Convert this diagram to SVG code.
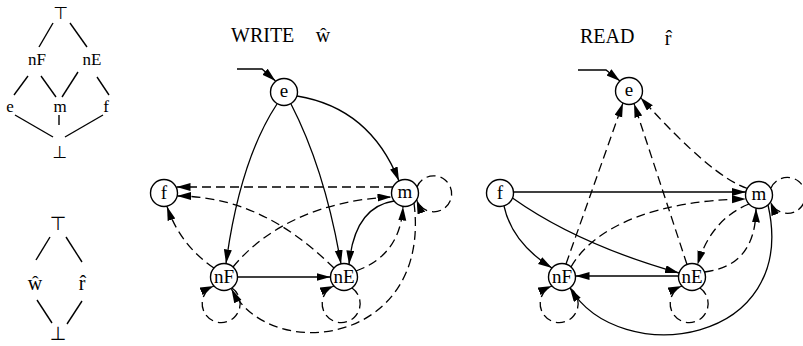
<svg xmlns="http://www.w3.org/2000/svg" width="803" height="346" viewBox="0 0 803 346">
<style>
  text { font-family: "Liberation Serif", "Times New Roman", serif; fill: #000; }
  .lbl { font-size: 19px; text-anchor: middle; }
  .lat { font-size: 17px; text-anchor: middle; }
  .sym { font-family: "DejaVu Sans", sans-serif; text-anchor: middle; }
  .ttl { font-size: 20px; }
  .hat { font-size: 20px; text-anchor: middle; }
  circle.n { fill: #fff; stroke: #000; stroke-width: 1.4; }
  .e { fill: none; stroke: #000; stroke-width: 1.3; marker-end: url(#ah); }
  .d { stroke-dasharray: 9 5; }
  .ln { stroke: #000; stroke-width: 1.4; fill: none; }
</style>
<defs>
  <marker id="ah" markerWidth="15" markerHeight="9" refX="14" refY="4" orient="auto" markerUnits="userSpaceOnUse">
    <path d="M0,0 L14,4 L0,8 z" fill="#000" stroke="none"/>
  </marker>
</defs>
<rect width="803" height="346" fill="#fff"/>

<!-- Lattice 1 -->
<g id="lattice1-edges" class="ln">
  <line x1="53" y1="23" x2="39" y2="47"/>
  <line x1="70" y1="23" x2="87" y2="47"/>
  <line x1="28" y1="76" x2="14" y2="95"/>
  <line x1="41" y1="76" x2="56" y2="97"/>
  <line x1="78" y1="72" x2="62" y2="97"/>
  <line x1="97" y1="77" x2="109" y2="95"/>
  <line x1="15" y1="115" x2="53" y2="137"/>
  <line x1="59" y1="115" x2="59" y2="125"/>
  <line x1="103" y1="115" x2="65" y2="137"/>
</g>
<g id="l1-top"><text class="sym" x="61" y="19" font-size="17">⊤</text></g>
<g id="l1-nF"><text class="lat" x="37" y="65">nF</text></g>
<g id="l1-nE"><text class="lat" x="92" y="65">nE</text></g>
<g id="l1-e"><text class="lat" x="10" y="112">e</text></g>
<g id="l1-m"><text class="lat" x="60" y="112">m</text></g>
<g id="l1-f"><text class="lat" x="106" y="112">f</text></g>
<g id="l1-bot"><text class="sym" x="60" y="158" font-size="17">⊥</text></g>

<!-- Lattice 2 -->
<g id="lattice2-edges" class="ln">
  <line x1="50" y1="237" x2="36" y2="260"/>
  <line x1="66" y1="237" x2="82" y2="262"/>
  <line x1="37" y1="300" x2="52" y2="323"/>
  <line x1="82" y1="301" x2="67" y2="324"/>
</g>
<g id="l2-top"><text class="sym" x="58" y="230" font-size="19">⊤</text></g>
<g id="l2-w"><text class="hat" x="35" y="290">ŵ</text></g>
<g id="l2-r"><text class="hat" x="82" y="290">r̂</text></g>
<g id="l2-bot"><text class="sym" x="58" y="340" font-size="19">⊥</text></g>

<!-- Titles -->
<text class="ttl" x="231" y="42">WRITE</text>
<text class="hat" x="323" y="42">ŵ</text>
<text class="ttl" x="580" y="43">READ</text>
<text class="hat" x="668" y="45">r̂</text>

<!-- WRITE connectors -->
<g id="write-connectors">
  <path class="e" d="M237,69 L262,69 L275.5,81"/>
  <path class="e" d="M277,104 Q240,160 226,263.5"/>
  <path class="e" d="M291,104 Q325,170 341,264"/>
  <path class="e" d="M297,96 Q370,108 399,181"/>
  <path class="e" d="M237.5,277 L330.5,277"/>
  <path class="e" d="M394,201 Q354.5,207 349,264.5"/>
  <path class="e d" d="M393,187 L176.5,187"/>
  <path class="e d" d="M334,268 C300,235 250,196 177,196"/>
  <path class="e d" d="M233,267 C265,228 320,200 391.5,197"/>
  <path class="e d" d="M214,268 Q180,245 167,206.5"/>
  <path class="e d" d="M356,271 Q400.5,255 403,206.5"/>
  <path class="e d" d="M414,203 C432,345 270,365 231.5,289"/>
  <path class="e d" d="M417,187 A18,18 0 1,1 416.7,199.8"/>
  <path class="e d" d="M232,288 A19,19 0 1,1 214,286"/>
  <path class="e d" d="M352,288 A19,19 0 1,1 334,286"/>
</g>

<!-- WRITE nodes -->
<g id="w-e"><circle class="n" cx="284" cy="92" r="13.5"/><text class="lbl" x="284" y="97">e</text></g>
<g id="w-f"><circle class="n" cx="164" cy="193" r="13.5"/><text class="lbl" x="164" y="199">f</text></g>
<g id="w-m"><circle class="n" cx="405" cy="193" r="13.5"/><text class="lbl" x="405" y="198">m</text></g>
<g id="w-nF"><circle class="n" cx="224" cy="277" r="13.5"/><text class="lbl" x="224" y="283">nF</text></g>
<g id="w-nE"><circle class="n" cx="344" cy="277" r="13.5"/><text class="lbl" x="344" y="283">nE</text></g>

<!-- READ connectors -->
<g id="read-connectors">
  <path class="e" d="M578,70 L606,70 L620,81"/>
  <path class="e" d="M513.5,192 L746,192"/>
  <path class="e" d="M512.5,198 Q578,244.5 679,273"/>
  <path class="e" d="M504,206 Q512,243 552,268"/>
  <path class="e" d="M678.5,276 L575.5,276"/>
  <path class="e" d="M768,205 C800,345 620,370 570,288"/>
  <path class="e d" d="M566,264 L623,103"/>
  <path class="e d" d="M687,264.5 L634,103.5"/>
  <path class="e d" d="M747.5,188.5 Q712,177 640.5,97.5"/>
  <path class="e d" d="M571,267 C595,225 660,200 746,199"/>
  <path class="e d" d="M749,204 Q710.75,219.6 697.5,264.8"/>
  <path class="e d" d="M704.5,272 Q755.75,266 756,208.5"/>
  <path class="e d" d="M771,188 A18,18 0 1,1 770.5,201.5"/>
  <path class="e d" d="M570,288 A19,19 0 1,1 552,286"/>
  <path class="e d" d="M700,288 A19,19 0 1,1 682,286"/>
</g>

<!-- READ nodes -->
<g id="r-e"><circle class="n" cx="629" cy="91" r="13.5"/><text class="lbl" x="629" y="96">e</text></g>
<g id="r-f"><circle class="n" cx="500" cy="193" r="13.5"/><text class="lbl" x="500" y="199">f</text></g>
<g id="r-m"><circle class="n" cx="759" cy="195" r="13.5"/><text class="lbl" x="759" y="200">m</text></g>
<g id="r-nF"><circle class="n" cx="562" cy="277" r="13.5"/><text class="lbl" x="562" y="283">nF</text></g>
<g id="r-nE"><circle class="n" cx="692" cy="277" r="13.5"/><text class="lbl" x="692" y="283">nE</text></g>
</svg>
